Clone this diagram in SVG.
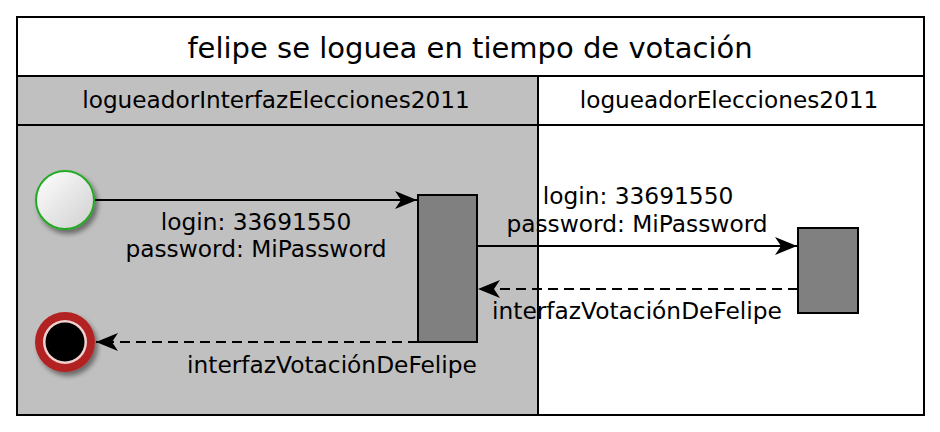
<svg xmlns="http://www.w3.org/2000/svg" width="940" height="432" viewBox="0 0 940 432">
<style>
text{font-family:"DejaVu Sans","Liberation Sans",sans-serif;fill:#000}
.lbl{font-size:23.3px;text-anchor:middle}
.hdr{font-size:23.2px;text-anchor:middle}
.act{fill:#808080;stroke:#000;stroke-width:2}
.ln{stroke:#000;stroke-width:2;fill:none}
.dash{stroke-dasharray:10,6}
</style>
<defs>
<marker id="ah" markerWidth="24" markerHeight="18" refX="22" refY="9" orient="auto" markerUnits="userSpaceOnUse">
<path d="M0,0 L22,9 L0,18 L6,9 Z" fill="#000"/>
</marker>
<linearGradient id="sg" x1="0" y1="0" x2="1" y2="1">
<stop offset="0" stop-color="#ffffff"/>
<stop offset="1" stop-color="#cfcfcf"/>
</linearGradient>
<filter id="sh" x="-30%" y="-30%" width="170%" height="170%">
<feGaussianBlur in="SourceAlpha" stdDeviation="2.5"/>
<feOffset dx="3" dy="4"/>
<feComponentTransfer><feFuncA type="linear" slope="0.45"/></feComponentTransfer>
<feMerge><feMergeNode/><feMergeNode in="SourceGraphic"/></feMerge>
</filter>
</defs>
<rect width="940" height="432" fill="#fff"/>
<g id="frame">
<rect x="17" y="76" width="521" height="339" fill="#c0c0c0"/>
<rect x="17" y="17" width="907" height="398" fill="none" stroke="#000" stroke-width="2"/>
<line x1="17" y1="76" x2="924" y2="76" stroke="#000" stroke-width="2"/>
<line x1="17" y1="125" x2="924" y2="125" stroke="#000" stroke-width="2"/>
<line x1="538" y1="76" x2="538" y2="415" stroke="#000" stroke-width="2"/>
<text x="470" y="58" font-size="29" text-anchor="middle">felipe se loguea en tiempo de votación</text>
<text class="hdr" x="276" y="108">logueadorInterfazElecciones2011</text>
<text class="hdr" x="729" y="108">logueadorElecciones2011</text>
</g>
<g id="start">
<circle cx="65" cy="200" r="29" fill="url(#sg)" stroke="#22aa22" stroke-width="2" filter="url(#sh)"/>
</g>
<g id="end">
<g filter="url(#sh)">
<circle cx="65" cy="342" r="30" fill="#b22222"/>
<circle cx="65" cy="342" r="22" fill="#f0d0d0"/>
<circle cx="65" cy="342" r="19.5" fill="#000"/>
</g>
</g>
<g id="act1"><rect class="act" x="418" y="195" width="59" height="147"/></g>
<g id="act2"><rect class="act" x="798" y="228" width="60" height="85"/></g>
<g id="connectors">
<line class="ln" x1="95" y1="200" x2="417" y2="200" marker-end="url(#ah)"/>
<line class="ln" x1="477" y1="246" x2="797" y2="246" marker-end="url(#ah)"/>
<line class="ln dash" x1="798" y1="289" x2="478" y2="289" marker-end="url(#ah)"/>
<line class="ln dash" x1="418" y1="342" x2="96" y2="342" marker-end="url(#ah)"/>
<text class="lbl" x="256" y="230">login: 33691550</text>
<text class="lbl" x="256" y="257">password: MiPassword</text>
<text class="lbl" x="638" y="204">login: 33691550</text>
<text class="lbl" x="637" y="232">password: MiPassword</text>
<text class="lbl" x="637" y="319">interfazVotaciónDeFelipe</text>
<text class="lbl" x="332" y="373">interfazVotaciónDeFelipe</text>
</g>
</svg>
